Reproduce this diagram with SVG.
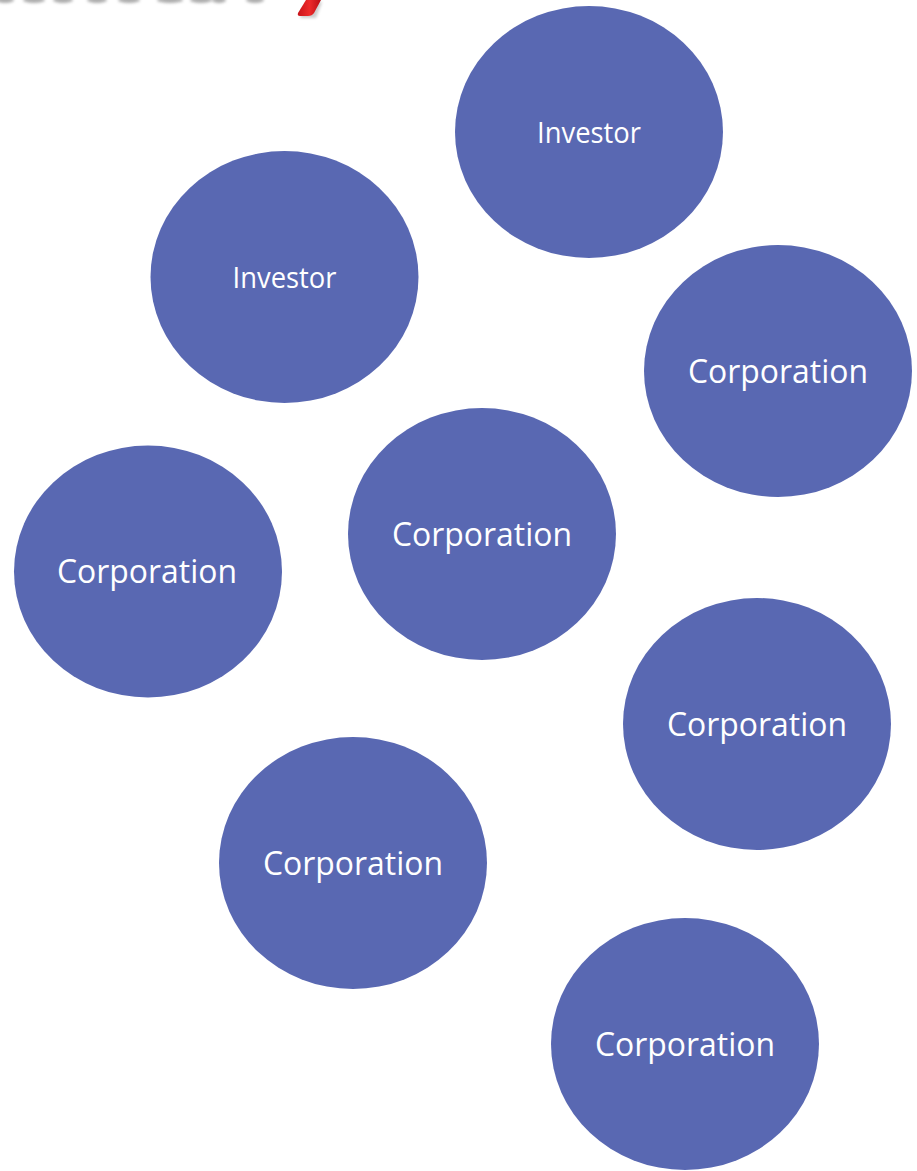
<svg xmlns="http://www.w3.org/2000/svg" width="917" height="1171" viewBox="0 0 917 1171">
<style>
.node ellipse{fill:#5968B2;}
.lbl{font-family:"Open Sans","Noto Sans","Liberation Sans",sans-serif;fill:#ffffff;text-anchor:middle;font-variant-ligatures:none;}
.inv{font-size:28.5px;}
.corp{font-size:33.5px;}
</style>
<defs>
<filter id="blur" x="-50%" y="-100%" width="200%" height="300%"><feGaussianBlur stdDeviation="1.5"/></filter>
<linearGradient id="red" x1="0" y1="0" x2="1" y2="0">
<stop offset="0" stop-color="#c8141a"/><stop offset="0.5" stop-color="#ee2a2a"/><stop offset="1" stop-color="#b80e14"/>
</linearGradient>
</defs>
<rect width="917" height="1171" fill="#ffffff"/>
<g id="logo">
<g fill="#8a8a8a" filter="url(#blur)" opacity="0.7">
<ellipse cx="5" cy="0" rx="9" ry="3"/>
<ellipse cx="34" cy="0" rx="11" ry="3"/>
<ellipse cx="63" cy="0" rx="10" ry="3"/>
<ellipse cx="97" cy="0" rx="10" ry="3"/>
<ellipse cx="129" cy="0" rx="11" ry="3"/>
<ellipse cx="170" cy="0" rx="13" ry="3"/>
<ellipse cx="201" cy="0" rx="11" ry="3"/>
<ellipse cx="219" cy="0" rx="7" ry="3"/>
<ellipse cx="255" cy="0" rx="9" ry="3"/>
</g>
<polygon points="300,18 316,18 322,2 306,2" fill="#000" opacity="0.2" filter="url(#blur)"/>
<path d="M306,0 L321,0 L314,13 Q312,16 308,16 L300,16 Q297,16 298,13 Z" fill="url(#red)"/>
</g>
<g id="connectors"/>
<g id="investor1" class="node">
<ellipse cx="589" cy="132" rx="134" ry="126"/>
<text class="lbl inv" x="589" y="143" textLength="104" lengthAdjust="spacingAndGlyphs">Investor</text>
</g>
<g id="investor2" class="node">
<ellipse cx="284.5" cy="277" rx="134" ry="126"/>
<text class="lbl inv" x="284.5" y="288" textLength="104" lengthAdjust="spacingAndGlyphs">Investor</text>
</g>
<g id="corp1" class="node">
<ellipse cx="778" cy="371" rx="134" ry="126"/>
<text class="lbl corp" x="778" y="383" textLength="180" lengthAdjust="spacingAndGlyphs">Corporation</text>
</g>
<g id="corp2" class="node">
<ellipse cx="482" cy="534" rx="134" ry="126"/>
<text class="lbl corp" x="482" y="546" textLength="180" lengthAdjust="spacingAndGlyphs">Corporation</text>
</g>
<g id="corp3" class="node">
<ellipse cx="148" cy="571.5" rx="134" ry="126"/>
<text class="lbl corp" x="147" y="583" textLength="180" lengthAdjust="spacingAndGlyphs">Corporation</text>
</g>
<g id="corp4" class="node">
<ellipse cx="757" cy="724" rx="134" ry="126"/>
<text class="lbl corp" x="757" y="736" textLength="180" lengthAdjust="spacingAndGlyphs">Corporation</text>
</g>
<g id="corp5" class="node">
<ellipse cx="353" cy="863" rx="134" ry="126"/>
<text class="lbl corp" x="353" y="875" textLength="180" lengthAdjust="spacingAndGlyphs">Corporation</text>
</g>
<g id="corp6" class="node">
<ellipse cx="685" cy="1044" rx="134" ry="126"/>
<text class="lbl corp" x="685" y="1056" textLength="180" lengthAdjust="spacingAndGlyphs">Corporation</text>
</g>
</svg>
